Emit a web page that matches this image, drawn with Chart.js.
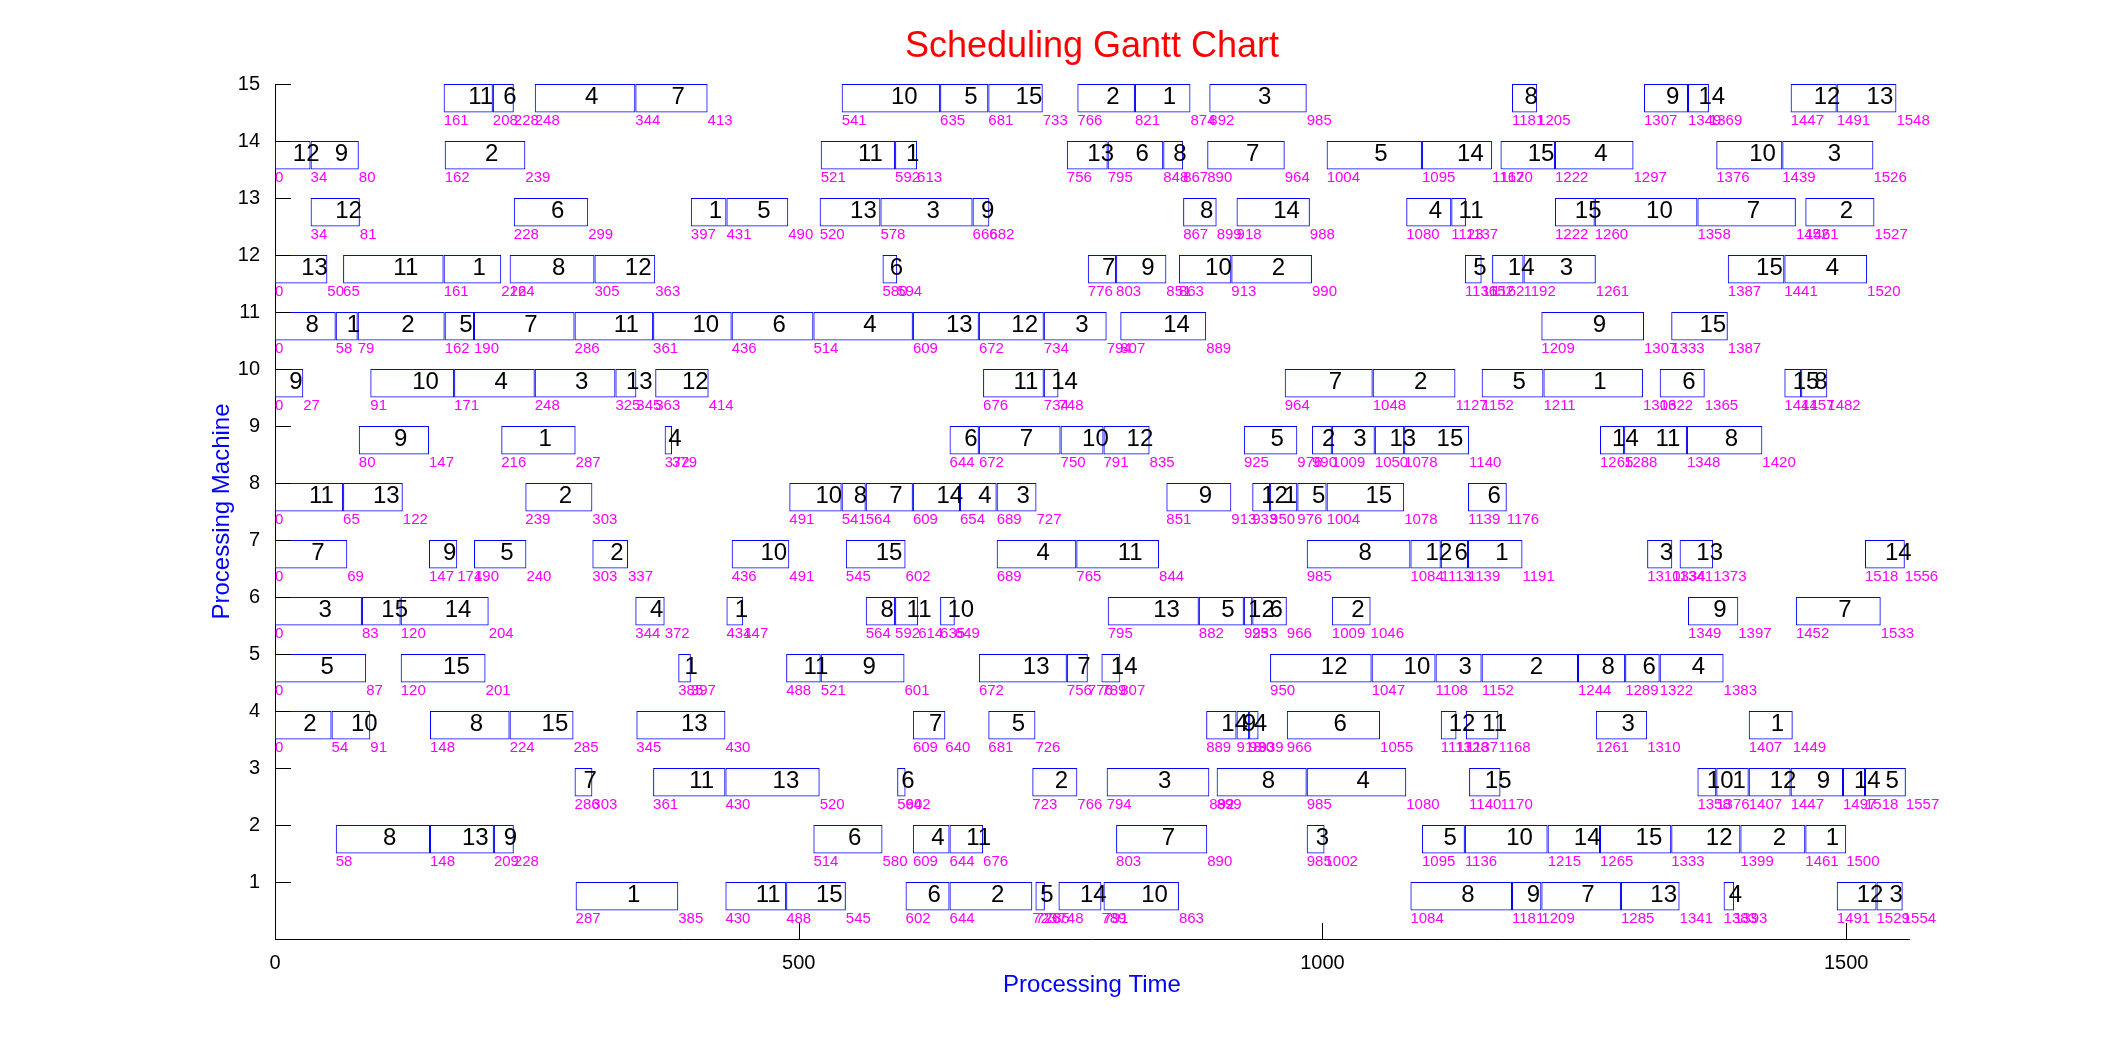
<!DOCTYPE html>
<html><head><meta charset="utf-8">
<script src="https://cdn.jsdelivr.net/npm/chart.js@4/dist/chart.umd.min.js"></script>
<style>html,body{margin:0;padding:0;background:#fff}#wrap{width:2111px;height:1054px;position:relative}</style>
</head><body><div id="wrap"><canvas id="c"></canvas></div>
<script>
// Each entry: [job, start, end]
const machine1 = [[1,287,385],[11,430,488],[15,488,545],[6,602,644],[2,644,723],[5,726,735],[14,748,789],[10,791,863],[8,1084,1181],[9,1181,1209],[7,1209,1285],[13,1285,1341],[4,1383,1393],[12,1491,1529],[3,1529,1554]];
const machine2 = [[8,58,148],[13,148,209],[9,209,228],[6,514,580],[4,609,644],[11,644,676],[7,803,890],[3,985,1002],[5,1095,1136],[10,1136,1215],[14,1215,1265],[15,1265,1333],[12,1333,1399],[2,1399,1461],[1,1461,1500]];
const machine3 = [[7,286,303],[11,361,430],[13,430,520],[6,594,602],[2,723,766],[3,794,892],[8,899,985],[4,985,1080],[15,1140,1170],[10,1358,1376],[1,1376,1407],[12,1407,1447],[9,1447,1497],[14,1497,1518],[5,1518,1557]];
const machine4 = [[2,0,54],[10,54,91],[8,148,224],[15,224,285],[13,345,430],[7,609,640],[5,681,726],[14,889,918],[9,918,930],[4,930,939],[6,966,1055],[12,1113,1128],[11,1137,1168],[3,1261,1310],[1,1407,1449]];
const machine5 = [[5,0,87],[15,120,201],[1,385,397],[11,488,521],[9,521,601],[13,672,756],[7,756,776],[14,789,807],[12,950,1047],[10,1047,1108],[3,1108,1152],[2,1152,1244],[8,1244,1289],[6,1289,1322],[4,1322,1383]];
const machine6 = [[3,0,83],[15,83,120],[14,120,204],[4,344,372],[1,431,447],[8,564,592],[11,592,614],[10,635,649],[13,795,882],[5,882,925],[12,925,933],[6,933,966],[2,1009,1046],[9,1349,1397],[7,1452,1533]];
const machine7 = [[7,0,69],[9,147,174],[5,190,240],[2,303,337],[10,436,491],[15,545,602],[4,689,765],[11,765,844],[8,985,1084],[12,1084,1113],[6,1113,1139],[1,1139,1191],[3,1310,1334],[13,1341,1373],[14,1518,1556]];
const machine8 = [[11,0,65],[13,65,122],[2,239,303],[10,491,541],[8,541,564],[7,564,609],[14,609,654],[4,654,689],[3,689,727],[9,851,913],[12,933,950],[1,950,976],[5,976,1004],[15,1004,1078],[6,1139,1176]];
const machine9 = [[9,80,147],[1,216,287],[4,372,379],[6,644,672],[7,672,750],[10,750,791],[12,791,835],[5,925,976],[2,990,1009],[3,1009,1050],[13,1050,1078],[15,1078,1140],[14,1265,1288],[11,1288,1348],[8,1348,1420]];
const machine10 = [[9,0,27],[10,91,171],[4,171,248],[3,248,325],[13,325,345],[12,363,414],[11,676,734],[14,734,748],[7,964,1048],[2,1048,1127],[5,1152,1211],[1,1211,1306],[6,1322,1365],[15,1441,1457],[8,1457,1482]];
const machine11 = [[8,0,58],[1,58,79],[2,79,162],[5,162,190],[7,190,286],[11,286,361],[10,361,436],[6,436,514],[4,514,609],[13,609,672],[12,672,734],[3,734,794],[14,807,889],[9,1209,1307],[15,1333,1387]];
const machine12 = [[13,0,50],[11,65,161],[1,161,216],[8,224,305],[12,305,363],[6,580,594],[7,776,803],[9,803,851],[10,863,913],[2,913,990],[5,1136,1152],[14,1162,1192],[3,1192,1261],[15,1387,1441],[4,1441,1520]];
const machine13 = [[12,34,81],[6,228,299],[1,397,431],[5,431,490],[13,520,578],[3,578,666],[9,666,682],[8,867,899],[14,918,988],[4,1080,1123],[11,1123,1137],[15,1222,1260],[10,1260,1358],[7,1358,1452],[2,1461,1527]];
const machine14 = [[12,0,34],[9,34,80],[2,162,239],[11,521,592],[1,592,613],[13,756,795],[6,795,848],[8,848,867],[7,890,964],[5,1004,1095],[14,1095,1162],[15,1170,1222],[4,1222,1297],[10,1376,1439],[3,1439,1526]];
const machine15 = [[11,161,208],[6,208,228],[4,248,344],[7,344,413],[10,541,635],[5,635,681],[15,681,733],[2,766,821],[1,821,874],[3,892,985],[8,1181,1205],[9,1307,1349],[14,1349,1369],[12,1447,1491],[13,1491,1548]];

const machines = [machine1,machine2,machine3,machine4,machine5,machine6,machine7,machine8,machine9,machine10,machine11,machine12,machine13,machine14,machine15];
const xTickValues = [0,500,1000,1500];
const yTickValues = [1,2,3,4,5,6,7,8,9,10,11,12,13,14,15];
const xMax = 1560;
const yMax = 15;

const tasks = [];
machines.forEach((list, i) => list.forEach(([job, s, e]) => tasks.push({machine: i + 1, job, start: s, end: e})));

const FONT = "'Liberation Sans', Arial, Helvetica, sans-serif";

const ganttPlugin = {
  id: 'ganttLabels',
  afterDatasetsDraw(chart) {
    const {ctx, scales: {x, y}, chartArea} = chart;
    ctx.save();
    ctx.textAlign = 'left';
    ctx.textBaseline = 'alphabetic';
    // time labels (each distinct time drawn once per machine)
    const seen = new Set();
    ctx.fillStyle = '#FF00FF';
    ctx.font = '15px ' + FONT;
    tasks.forEach(t => {
      const yBot = y.getPixelForValue(t.machine - 0.5);
      [t.start, t.end].forEach(v => {
        const key = t.machine + ':' + v;
        if (seen.has(key)) return;
        seen.add(key);
        ctx.fillText(String(v), x.getPixelForValue(v), yBot + 12);
      });
    });
    // job labels
    ctx.fillStyle = '#000';
    ctx.font = '24px ' + FONT;
    tasks.forEach(t => {
      const xc = x.getPixelForValue((t.start + t.end) / 2);
      const yTop = y.getPixelForValue(t.machine);
      const yBot = y.getPixelForValue(t.machine - 0.5);
      ctx.fillText(String(t.job), xc, (yTop + yBot) / 2 + 5.5);
    });
    // inward tick marks
    ctx.strokeStyle = '#000';
    ctx.lineWidth = 1;
    ctx.beginPath();
    xTickValues.forEach(v => {
      const px = Math.round(x.getPixelForValue(v)) + 0.5;
      ctx.moveTo(px, chartArea.bottom);
      ctx.lineTo(px, chartArea.bottom - 16);
    });
    yTickValues.forEach(v => {
      const py = Math.round(y.getPixelForValue(v)) + 0.5;
      ctx.moveTo(chartArea.left, py);
      ctx.lineTo(chartArea.left + 16, py);
    });
    ctx.stroke();
    ctx.restore();
  }
};

new Chart(document.getElementById('c'), {
  type: 'bar',
  data: {
    datasets: [{
      data: tasks.map(t => ({x: [t.start, t.end], y: t.machine - 0.25})),
      backgroundColor: 'rgba(255,255,255,0)',
      borderColor: '#0000FF',
      borderWidth: 1,
      borderSkipped: false,
      barPercentage: 1,
      categoryPercentage: 0.5,
      grouped: false
    }]
  },
  options: {
    indexAxis: 'y',
    responsive: true,
    maintainAspectRatio: false,
    animation: false,
    devicePixelRatio: 1,
    events: [],
    layout: {padding: {left: 0, right: 202, top: 0, bottom: 0}},
    plugins: {
      legend: {display: false},
      tooltip: {enabled: false},
      title: {
        display: true, text: 'Scheduling Gantt Chart', color: '#FF0000', fullSize: false,
        font: {family: FONT, size: 36, weight: 'normal'}, padding: {top: 25, bottom: 15.8}
      }
    },
    scales: {
      x: {
        type: 'linear', min: 0, max: xMax,
        grid: {display: false},
        border: {display: true, color: '#000', width: 1},
        ticks: {color: '#000', font: {family: FONT, size: 20}, padding: 4, maxRotation: 0, autoSkip: false,
          callback: v => String(v)},
        afterBuildTicks: s => { s.ticks = xTickValues.map(v => ({value: v})); },
        afterFit: s => { s.height = 115; },
        title: {display: true, text: 'Processing Time', color: '#0000FF',
          font: {family: FONT, size: 24}, padding: {top: 0, bottom: 54.6}}
      },
      y: {
        type: 'linear', min: 0, max: yMax, offset: false,
        grid: {display: false},
        border: {display: true, color: '#000', width: 1},
        ticks: {color: '#000', font: {family: FONT, size: 20}, padding: 7, autoSkip: false,
          callback: v => String(v)},
        afterBuildTicks: s => { s.ticks = yTickValues.map(v => ({value: v})); },
        afterFit: s => { s.width = 275; },
        title: {display: true, text: 'Processing Machine', color: '#0000FF',
          font: {family: FONT, size: 24}, padding: {top: 207.6, bottom: 0}}
      }
    }
  },
  plugins: [ganttPlugin]
});
</script></body></html>
